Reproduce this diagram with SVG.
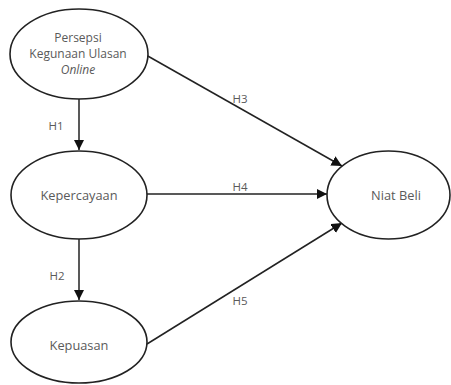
<svg xmlns="http://www.w3.org/2000/svg" width="451" height="385" viewBox="0 0 451 385">
<defs>
<style>
.node ellipse{fill:#fff;stroke:#222;stroke-width:1.6}
.node text{font-family:"Open Sans","Noto Sans",sans-serif;font-size:12.8px;fill:#5a5a5a;text-anchor:middle}
.node text.ml{font-size:12px}
.edge line{stroke:#222;stroke-width:1.5;marker-end:url(#arr)}
.lbl{font-family:"Open Sans","Noto Sans",sans-serif;font-size:11.5px;fill:#5a5a5a;text-anchor:middle}
</style>
<marker id="arr" viewBox="0 0 10 10" refX="10" refY="5" markerWidth="7" markerHeight="7" orient="auto" markerUnits="strokeWidth">
<path d="M0,0 L10,5 L0,10 z" fill="#111"/>
</marker>
</defs>
<rect width="451" height="385" fill="#fff"/>
<g id="edges" class="edge">
<line x1="79" y1="99" x2="79" y2="150"/>
<line x1="79" y1="239" x2="79" y2="300"/>
<line x1="146" y1="55" x2="342" y2="166"/>
<line x1="146" y1="194" x2="327" y2="194"/>
<line x1="147" y1="344" x2="342" y2="223"/>
</g>
<g id="labels">
<text class="lbl" x="56" y="130">H1</text>
<text class="lbl" x="57" y="280">H2</text>
<text class="lbl" x="240" y="103">H3</text>
<text class="lbl" x="240" y="191">H4</text>
<text class="lbl" x="240" y="305">H5</text>
</g>
<g id="n1" class="node">
<ellipse cx="79" cy="54" rx="69" ry="45"/>
<text class="ml" x="78" y="41.5">Persepsi</text>
<text class="ml" x="78" y="57.9">Kegunaan Ulasan</text>
<text class="ml" x="78" y="74.3" font-style="italic">Online</text>
</g>
<g id="n2" class="node">
<ellipse cx="79" cy="195" rx="68" ry="44"/>
<text x="79" y="200">Kepercayaan</text>
</g>
<g id="n3" class="node">
<ellipse cx="79" cy="342" rx="68" ry="41"/>
<text x="79" y="350">Kepuasan</text>
</g>
<g id="n4" class="node">
<ellipse cx="388.5" cy="195" rx="61.5" ry="44"/>
<text x="396" y="200">Niat Beli</text>
</g>
</svg>
